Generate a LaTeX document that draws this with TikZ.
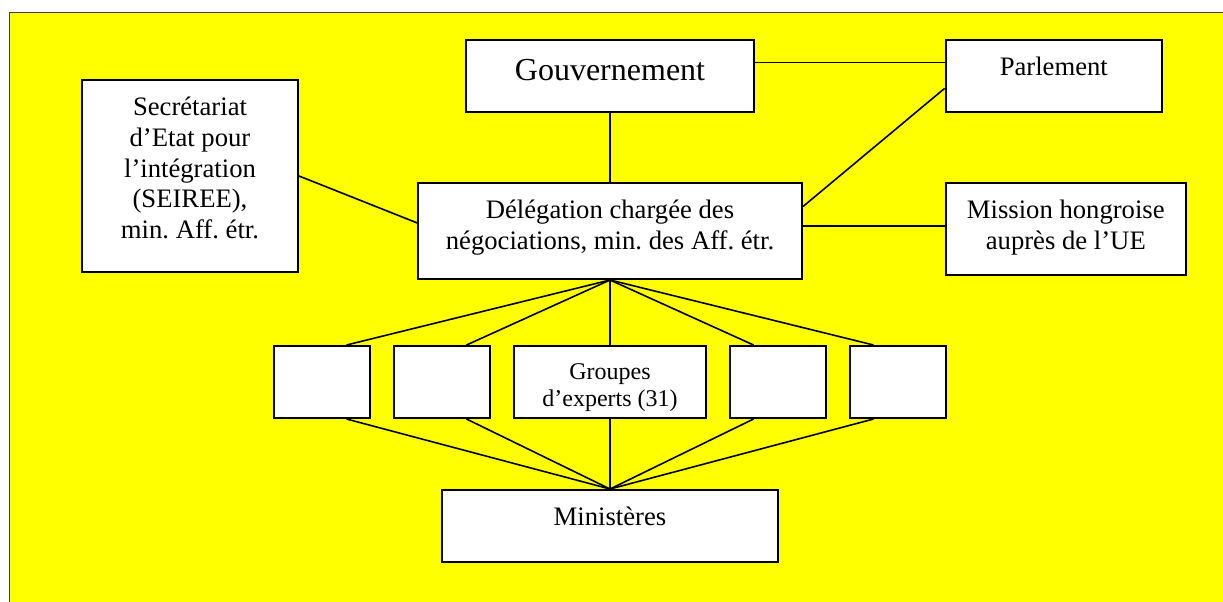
\documentclass[tikz,border=0pt]{standalone}
\usepackage{fontspec}
\setmainfont{Liberation Serif}
\usetikzlibrary{calc}
\definecolor{bgyellow}{RGB}{255,255,0}
\frenchspacing
\begin{document}
\begin{tikzpicture}[x=0.75pt,y=-0.75pt,
  box/.style={draw=black, line width=1.5pt, fill=white, rectangle, inner sep=0pt},
  conn/.style={draw=black, line width=1.2pt},
  txt/.style={font=\fontsize{20}{23}\selectfont, align=center, inner sep=0pt, anchor=base},
]
\useasboundingbox (0,0) rectangle (1223,601);
\clip (0,0) rectangle (1223,601);
\path[fill=bgyellow, draw=black!75, line width=1.2pt] (9.5,12.3) rectangle (1240,620);

% boxes
\node[box, minimum width=216pt, minimum height=54pt] (gouv) at (610,76) {};
\node[box, minimum width=162.3pt, minimum height=54pt] (parl) at (1053.8,76) {};
\node[box, minimum width=162pt, minimum height=144pt] (secr) at (190,176) {};
\node[box, minimum width=288pt, minimum height=72pt] (deleg) at (610,231) {};
\node[box, minimum width=180.3pt, minimum height=69pt] (mission) at (1065.8,229) {};
\node[box, minimum width=72pt, minimum height=54pt] (b1) at (322,382) {};
\node[box, minimum width=72pt, minimum height=54pt] (b2) at (442,382) {};
\node[box, minimum width=144pt, minimum height=54pt] (b3) at (610,382) {};
\node[box, minimum width=72pt, minimum height=54pt] (b4) at (778,382) {};
\node[box, minimum width=72pt, minimum height=54pt] (b5) at (898,382) {};
\node[box, minimum width=252.5pt, minimum height=54pt] (mini) at (610,526) {};

% texts (anchor base = baseline of the last line)
\node[txt, font=\fontsize{24}{27.6}\selectfont] (tgouv) at (610,80.7) {Gouvernement};
\node[txt] (tparl) at (1053.8,75.7) {Parlement};
\node[txt] (tsecr) at (190,238.5) {Secrétariat\\d’Etat pour\\l’intégration\\(SEIREE),\\min. Aff. étr.};
\node[txt] (tdeleg) at (610,249.5) {Délégation chargée des\\négociations, min. des Aff. étr.};
\node[txt] (tmission) at (1065.8,249.5) {Mission hongroise\\auprès de l’UE};
\node[txt, font=\fontsize{18}{20.25}\selectfont] (tb3) at (610,406) {Groupes\\d’experts (31)};
\node[txt] (tmini) at (610,525) {Ministères};

% connectors
\coordinate (gp) at ($(gouv.north east)!0.32!(gouv.south east)$);
\draw[conn] (gp) -- (gp -| parl.west);
\draw[conn] (gouv.south) -- (deleg.north);
\draw[conn] (secr.east) -- ($(deleg.north west)!0.417!(deleg.south west)$);
\draw[conn] ($(parl.north west)!0.667!(parl.south west)$) -- ($(deleg.north east)!0.25!(deleg.south east)$);
\coordinate (dm) at ($(deleg.north east)!0.448!(deleg.south east)$);
\draw[conn] (dm) -- (dm -| mission.west);

\foreach \b/\c in {b1/north east, b2/north east, b4/north west, b5/north west}{
  \draw[conn] (deleg.south) -- ($(\b.north)!0.5!(\b.\c)$);
}
\draw[conn] (deleg.south) -- (b3.north);
\foreach \b/\c in {b1/south east, b2/south east, b4/south west, b5/south west}{
  \draw[conn] ($(\b.south)!0.5!(\b.\c)$) -- (mini.north);
}
\draw[conn] (b3.south) -- (mini.north);
\end{tikzpicture}
\end{document}
